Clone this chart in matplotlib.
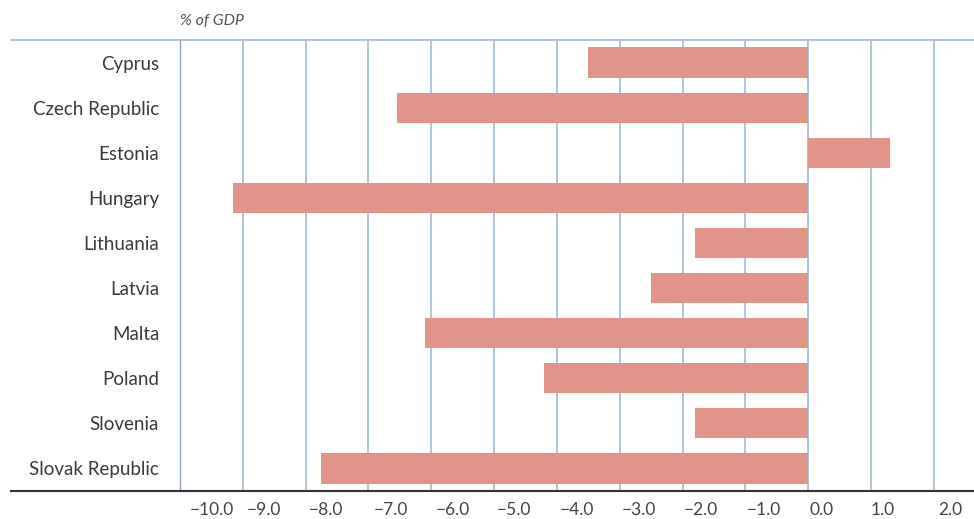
import matplotlib
matplotlib.use("Agg")
import matplotlib.pyplot as plt
import numpy as np

# data (% of GDP)
countries = ["Cyprus", "Czech Republic", "Estonia", "Hungary", "Lithuania",
             "Latvia", "Malta", "Poland", "Slovenia", "Slovak Republic"]
values = [-3.5, -6.55, 1.3, -9.15, -1.8, -2.5, -6.1, -4.2, -1.8, -7.75]

grid_vals = [-9, -8, -7, -6, -5, -4, -3, -2, -1, 0, 1, 2]
tick_labels = ["−10.0", "−9.0", "−8.0", "−7.0", "−6.0", "−5.0", "−4.0",
               "−3.0", "−2.0", "−1.0", "0.0", "1.0", "2.0"]
# labels sit a little to the right of their gridlines in the original
tick_pos = [-9.5, -8.66, -7.68, -6.65, -5.66, -4.68, -3.68, -2.70,
            -1.71, -0.71, 0.22, 1.18, 2.27]

plt.rcParams['font.family'] = ['Lato', 'DejaVu Sans']

W, H = 974, 519
fig = plt.figure(figsize=(W / 100, H / 100), dpi=100, facecolor="white")
ax = fig.add_axes([180 / W, 28 / H, (W - 180) / W, (491 - 40) / H])

grid_col = "#a9c0d4"
bar_col = "#e39488"

y = np.arange(len(countries))
ax.barh(y, values, height=0.67, color=bar_col, zorder=3)
ax.set_ylim(len(countries) - 0.5, -0.5)
ax.set_xlim(-10, 2.64)

for g in grid_vals:
    ax.axvline(g, color=grid_col, linewidth=1.3, zorder=1)

for s in ["top", "right", "bottom"]:
    ax.spines[s].set_visible(False)
ax.spines["left"].set_color("#8aa5bf")
ax.spines["left"].set_linewidth(1.0)

# top and bottom rules run across the label area too
x0 = -(180 - 11) / (W - 180)
ax.axhline(-0.5, xmin=x0, xmax=1, color=grid_col, linewidth=1.3,
           clip_on=False, zorder=4)
ax.axhline(len(countries) - 0.5, xmin=x0, xmax=1, color="#333333",
           linewidth=1.5, clip_on=False, zorder=4)

ax.set_yticks(y)
ax.set_yticklabels(countries, fontsize=13.5, color="#3a3a3a")
ax.tick_params(axis="y", length=0, pad=15)

ax.set_xticks(tick_pos)
ax.set_xticklabels(tick_labels, fontsize=12.5, color="#444444")
ax.tick_params(axis="x", length=0, pad=8)

ax.text(0.0, 1.027, "% of GDP", transform=ax.transAxes, fontsize=11.5,
        style="italic", color="#555555", ha="left", va="bottom")

fig.savefig("out.png", dpi=100, facecolor="white")
